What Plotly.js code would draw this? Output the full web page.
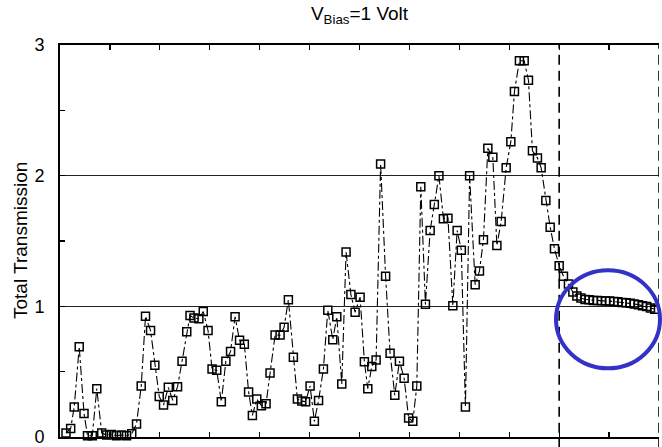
<!DOCTYPE html>
<html>
<head>
<meta charset="utf-8">
<script src="https://cdn.plot.ly/plotly-3.0.1.min.js"></script>
<style>html,body{margin:0;padding:0;background:#fff;}#chart{width:662px;height:447px;}</style>
</head>
<body>
<div id="chart"></div>
<script>
// Energy positions (arbitrary axis units, 0..12) and total transmission values
const energy = [
  0.120,0.214,0.285,0.385,0.481,0.551,0.647,0.737,0.836,0.936,
  1.032,1.132,1.232,1.333,1.437,1.533,1.627,1.713,1.814,1.900,
  1.988,2.074,2.170,2.259,2.355,2.445,2.539,2.605,2.685,2.782,
  2.870,2.966,3.046,3.140,3.232,3.323,3.417,3.507,3.597,3.693,
  3.778,3.854,3.942,4.034,4.128,4.208,4.309,4.409,4.489,4.575,
  4.675,4.756,4.844,4.920,5.010,5.096,5.180,5.277,5.365,5.465,
  5.545,5.645,5.731,5.828,5.912,6.012,6.098,6.166,6.246,6.333,
  6.423,6.523,6.613,6.707,6.800,6.894,6.984,7.068,7.148,7.228,
  7.321,7.415,7.499,7.591,7.681,7.772,7.870,7.956,8.040,8.122,
  8.206,8.317,8.403,8.483,8.571,8.671,8.752,8.838,8.938,9.032,
  9.104,9.204,9.299,9.385,9.465,9.565,9.639,9.733,9.820,9.906,
  10.000,10.086,10.186,10.275,10.355,10.437,10.519,10.601,10.683,10.766,
  10.848,10.930,11.012,11.094,11.176,11.259,11.341,11.423,11.505,11.587,
  11.669,11.752,11.830,11.916
];
const transmission = [
  0.03,0.065,0.23,0.69,0.18,0.01,0.01,0.37,0.03,0.015,
  0.02,0.01,0.015,0.01,0.025,0.10,0.39,0.925,0.815,0.55,
  0.31,0.245,0.38,0.28,0.385,0.58,0.805,0.93,0.91,0.905,
  0.96,0.815,0.52,0.51,0.27,0.58,0.655,0.92,0.74,0.71,
  0.345,0.165,0.29,0.24,0.255,0.49,0.78,0.78,0.84,1.05,
  0.61,0.29,0.275,0.27,0.39,0.12,0.28,0.52,0.97,0.745,
  0.92,0.405,1.415,1.09,0.955,1.07,0.575,0.37,0.54,0.59,
  2.09,1.23,0.64,0.32,0.58,0.45,0.145,0.12,0.39,1.915,
  1.015,1.58,1.78,2.0,1.67,1.675,1.005,1.58,1.43,0.23,
  2.0,1.165,1.27,1.51,2.21,2.14,1.465,1.65,2.06,2.26,
  2.645,2.88,2.88,2.73,2.19,2.135,2.06,1.81,1.605,1.44,
  1.31,1.23,1.17,1.11,1.08,1.063,1.053,1.05,1.045,1.044,
  1.042,1.04,1.04,1.037,1.035,1.03,1.027,1.023,1.018,1.013,
  1.005,0.998,0.988,0.978
];
const boundaries = [10, 12];
const yTickVals = [0, 1, 2, 3];
const yTickText = ['0', '1', '2', '3'];

const FONT = 'Liberation Sans, Arial, Helvetica, sans-serif';

const trace = {
  x: energy, y: transmission, type: 'scatter', mode: 'lines+markers',
  line: {color: '#000', width: 1.1, dash: 'dashdot'},
  marker: {symbol: 'square-open', size: 8, color: '#000', line: {width: 1.5, color: '#000'}},
  cliponaxis: false, hoverinfo: 'skip'
};

const shapes = boundaries.map(b => ({
  type: 'line', xref: 'x', yref: 'paper', x0: b, x1: b, y0: -0.03, y1: 1,
  line: {color: '#000', width: 1.6, dash: '10px,6px'}
}));
shapes.push({
  type: 'circle', xref: 'paper', yref: 'paper',
  x0: (556 - 60) / 599, x1: (660 - 60) / 599,
  y0: (436.7 - 368) / 392, y1: (436.7 - 270) / 392,
  line: {color: '#3232c8', width: 4}
});

const layout = {
  width: 662, height: 447,
  margin: {l: 60, r: 3, t: 45, b: 10},
  paper_bgcolor: '#fff', plot_bgcolor: '#fff',
  showlegend: false,
  font: {family: FONT, size: 18, color: '#000'},
  title: {text: 'V<sub>Bias</sub>=1 Volt', font: {family: FONT, size: 19, color: '#000'},
          x: 359.5 / 662, xanchor: 'center', y: 0.985, yanchor: 'top'},
  xaxis: {
    range: [0, 12], showgrid: false, zeroline: false,
    showline: true, linecolor: '#000', linewidth: 1.8, mirror: 'ticks',
    ticks: 'inside', ticklen: 5, tickwidth: 1.2, tickcolor: '#000', dtick: 1, tick0: 0,
    showticklabels: false
  },
  yaxis: {
    range: [0, 3], showgrid: true, gridcolor: '#222', gridwidth: 1.6,
    zeroline: false, showline: true, linecolor: '#000', linewidth: 1.8, mirror: false,
    tickmode: 'array', tickvals: yTickVals, ticktext: yTickText,
    ticks: 'inside', ticklen: 5, tickwidth: 1.2, tickcolor: '#000',
    ticklabelstandoff: 10, ticklabeloverflow: 'allow',
    tickfont: {family: FONT, size: 18, color: '#000'},
    minor: {ticks: 'inside', dtick: 0.5, ticklen: 5, tickwidth: 1.2, tickcolor: '#000', showgrid: false}
  },
  shapes: shapes,
  annotations: [{
    text: 'Total Transmission', xref: 'paper', yref: 'paper',
    x: (20 - 60) / 599, y: 0.5, xanchor: 'center', yanchor: 'middle',
    textangle: -90, showarrow: false, font: {family: FONT, size: 19, color: '#000'}
  }]
};

Plotly.newPlot('chart', [trace], layout, {staticPlot: true, displayModeBar: false});
</script>
</body>
</html>
